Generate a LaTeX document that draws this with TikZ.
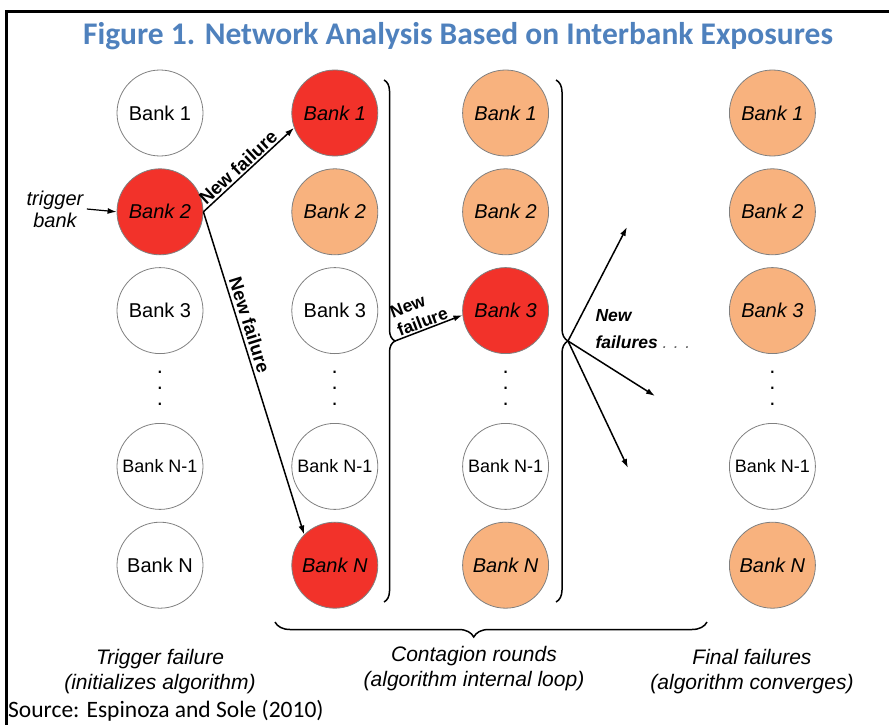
\documentclass[tikz,border=0pt]{standalone}
\usepackage{fontspec}
\setmainfont{Liberation Sans}
\newfontfamily\calibri{Carlito}
\usepackage{xcolor}
\usepackage{tikz}
\usetikzlibrary{arrows.meta,positioning,calc,decorations.pathreplacing}

\definecolor{titleblue}{RGB}{79,129,189}
\definecolor{failred}{RGB}{242,50,42}
\definecolor{failorange}{RGB}{248,178,126}

\begin{document}
\begin{tikzpicture}[
  x=1pt, y=-1pt,
  node distance=12pt and 88pt,
  bank/.style={circle, draw=black!50, line width=0.8pt, minimum size=86pt, inner sep=0pt, font=\fontsize{20}{24}\selectfont},
  nlbl/.style={font=\fontsize{18}{21}\selectfont},
  newfail/.style={bank, fill=failred, font=\fontsize{20}{24}\selectfont\itshape},
  failed/.style={bank, fill=failorange, font=\fontsize{20}{24}\selectfont\itshape},
  vdots/.style={align=center, inner sep=0pt, font=\fontsize{22}{16}\selectfont},
  arr/.style={-{Latex[length=9pt,width=6pt]}, line width=1.5pt},
  lbl/.style={font=\fontsize{18.5}{21}\selectfont\bfseries},
  caption/.style={align=center, font=\fontsize{21}{25}\selectfont\itshape},
  curly/.style={decorate, line width=1.5pt}
]
\useasboundingbox (0,0) rectangle (889,725);
\draw[line width=3pt] (6,725) -- (6,12) -- (889,12);

\node[font=\calibri\fontsize{31.5}{36}\selectfont\bfseries, text=titleblue] (title) at (458,36) {Figure 1. Network Analysis Based on Interbank Exposures};

% trigger column
\node[bank] (c1b1) at (160,113) {Bank 1};
\node[newfail, below=of c1b1] (c1b2) {Bank 2};
\node[bank, below=of c1b2] (c1b3) {Bank 3};
\node[bank, nlbl, below=69pt of c1b3] (c1bn1) {Bank N-1};
\node[bank, below=of c1bn1] (c1bn) {Bank N};
\node[vdots] (c1dots) at ($(c1b3)!0.5!(c1bn1)$) {.\\.\\.};

% first round
\node[newfail, right=of c1b1] (c2b1) {Bank 1};
\node[failed, below=of c2b1] (c2b2) {Bank 2};
\node[bank, below=of c2b2] (c2b3) {Bank 3};
\node[bank, nlbl, below=69pt of c2b3] (c2bn1) {Bank N-1};
\node[newfail, below=of c2bn1] (c2bn) {Bank N};
\node[vdots] (c2dots) at ($(c2b3)!0.5!(c2bn1)$) {.\\.\\.};

% second round
\node[failed, right=84pt of c2b1] (c3b1) {Bank 1};
\node[failed, below=of c3b1] (c3b2) {Bank 2};
\node[newfail, below=of c3b2] (c3b3) {Bank 3};
\node[bank, nlbl, below=69pt of c3b3] (c3bn1) {Bank N-1};
\node[failed, below=of c3bn1] (c3bn) {Bank N};
\node[vdots] (c3dots) at ($(c3b3)!0.5!(c3bn1)$) {.\\.\\.};

% final failures
\node[failed, right=180pt of c3b1] (c4b1) {Bank 1};
\node[failed, below=of c4b1] (c4b2) {Bank 2};
\node[failed, below=of c4b2] (c4b3) {Bank 3};
\node[bank, nlbl, below=69pt of c4b3] (c4bn1) {Bank N-1};
\node[failed, below=of c4bn1] (c4bn) {Bank N};
\node[vdots] (c4dots) at ($(c4b3)!0.5!(c4bn1)$) {.\\.\\.};

\node[align=center, font=\fontsize{20}{22}\selectfont\itshape] (trig) at (55,209) {trigger\\bank};
\draw[arr, line width=1.2pt] (trig.east) -- (c1b2.west);

\draw[arr] (c1b2.east) -- node[lbl, above, sloped, pos=0.45, inner sep=1.5pt] {New failure} (c2b1.200);
\draw[arr] (c1b2.east) -- node[lbl, above, sloped, pos=0.36, inner sep=3pt] {New failure} (c2bn.135);

% braces
\draw[curly, decoration={brace, amplitude=11pt}] (384,80) -- (384,602);
\coordinate (tip1) at (395,341);
\draw[arr] (tip1) -- node[lbl, above, sloped, align=left, pos=0.45, inner sep=1pt, font=\fontsize{17.5}{20}\selectfont\bfseries] {New\\failure} (c3b3.186);

\draw[curly, decoration={brace, amplitude=12pt}] (556,80) -- (556,602);
\coordinate (tip2) at (568,341);
\coordinate (f1) at (627,227);
\coordinate (f2) at (655,396);
\coordinate (f3) at (628,468);
\draw[arr] (tip2) -- (f1);
\draw[arr] (tip2) -- (f2);
\draw[arr] (tip2) -- (f3);
\node[align=left, anchor=west, font=\fontsize{17.5}{27}\selectfont\bfseries\itshape] (newf) at (592,329) {New\\failures {\mdseries\color{black!60}. . .}};

\draw[curly, decoration={brace, amplitude=15pt, aspect=0.54}] (707,622) -- (275,622);
\coordinate (tip3) at (474,637);

% captions
\node[caption, below=6pt of tip3] (contag) {Contagion rounds\\(algorithm internal loop)};
\node[caption] (trigcap) at (160,672) {Trigger failure\\(initializes algorithm)};
\node[caption] (finalcap) at (752,672) {Final failures\\(algorithm converges)};

\node[font=\calibri\fontsize{23.5}{26}\selectfont, anchor=west, inner sep=1pt] (src) at (7,711) {Source: Espinoza and Sole (2010)};
\end{tikzpicture}
\end{document}
